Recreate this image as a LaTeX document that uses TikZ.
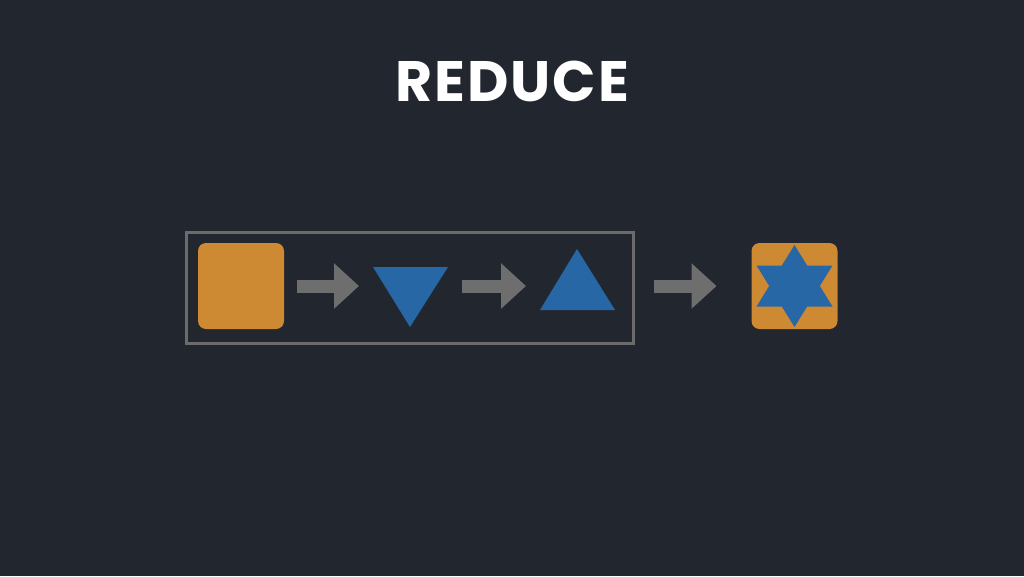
\documentclass[tikz,border=0pt]{standalone}
\usepackage{fontspec}
\setmainfont{Poppins}
\usetikzlibrary{arrows.meta,shapes.geometric}
\definecolor{bg}{HTML}{22262F}
\definecolor{tileorange}{HTML}{CE8A33}
\definecolor{shapeblue}{HTML}{2767A6}
\definecolor{arrowgray}{HTML}{6E6E6E}
\definecolor{framegray}{HTML}{6B6B6B}

\begin{document}
\begin{tikzpicture}[x=1pt,y=-1pt,
  tile/.style={fill=tileorange,rounded corners=8pt,minimum size=86pt,inner sep=0pt,outer sep=0pt},
  flow/.style={draw=arrowgray,line width=13pt,-{Triangle[width=44pt,length=25pt]}}]
  \fill[bg](0,0)rectangle(1024,576);
  \useasboundingbox(0,0)rectangle(1024,576);
  \node[text=white,font=\addfontfeatures{LetterSpace=3.5}\bfseries\fontsize{57}{60}\selectfont](title)at(512,81){REDUCE};
  \draw[framegray,line width=3pt](186.5,232.5)rectangle(633.5,343.5);
  \node[tile](sq)at(241,286){};
  \fill[shapeblue](373,267)--(448,267)--(410,327)--cycle;
  \fill[shapeblue](577,249)--(615,310)--(540,310)--cycle;
  \coordinate(dn)at(410,286);
  \coordinate(up)at(577,286);
  \node[tile](res)at(794.5,286){};
  \node[star,star points=6,star point ratio=1.732,minimum size=82pt,inner sep=0pt,fill=shapeblue,xscale=1.07,transform shape](hex)at(res){};
  \draw[flow,shorten <=13pt,shorten >=51pt](sq.east)--(dn);
  \draw[flow,shorten <=52pt,shorten >=51pt](dn)--(up);
  \draw[flow,shorten <=77pt,shorten >=35pt](up)--(res.west);
\end{tikzpicture}
\end{document}
